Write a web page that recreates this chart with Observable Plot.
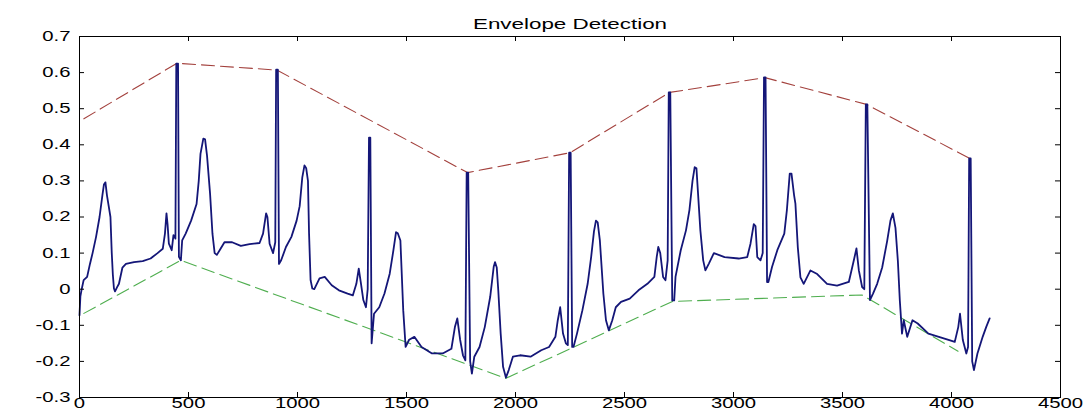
<!DOCTYPE html>
<html><head><meta charset="utf-8">
<script src="https://cdn.jsdelivr.net/npm/d3@7"></script>
<script src="https://cdn.jsdelivr.net/npm/@observablehq/plot@0.6"></script>
<style>body{margin:0;background:#fff;}</style>
</head><body><div id="chart"></div>
<script>
const title = "Envelope Detection";
const xTicks = [0, 500, 1000, 1500, 2000, 2500, 3000, 3500, 4000, 4500];
const yTicks = [-0.3, -0.2, -0.1, 0, 0.1, 0.2, 0.3, 0.4, 0.5, 0.6, 0.7];

// ECG signal (sample index, amplitude)
const ecgX = [0,4,10,19,35,48,60,76,92,105,112,119,126,134,142,148,153,158,163,172,181,197,213,250,290,326,358,382,392,399,404,410,423,431,440,444,452,456,465,471,487,512,537,547,555,568,576,585,599,610,620,630,645,665,700,740,780,826,842,856,862,872,888,898,902,910,915,925,947,972,996,1010,1022,1032,1040,1048,1053,1060,1068,1077,1101,1125,1157,1190,1230,1254,1270,1281,1290,1302,1314,1322,1328,1334,1340,1351,1375,1399,1423,1440,1452,1460,1472,1485,1496,1512,1536,1569,1617,1666,1706,1722,1733,1746,1759,1770,1776,1783,1792,1800,1811,1835,1859,1884,1900,1906,1914,1921,1932,1943,1956,1969,1988,2021,2069,2118,2154,2183,2194,2205,2218,2231,2240,2246,2253,2260,2266,2282,2307,2331,2347,2360,2369,2377,2387,2403,2415,2428,2444,2460,2484,2524,2564,2605,2637,2648,2655,2664,2677,2688,2698,2703,2710,2719,2728,2734,2758,2782,2798,2812,2822,2830,2848,2861,2871,2887,2910,2959,3024,3063,3078,3093,3101,3109,3124,3134,3140,3147,3154,3160,3177,3201,3233,3245,3258,3266,3278,3284,3295,3307,3322,3353,3384,3429,3475,3529,3552,3564,3575,3590,3600,3607,3614,3626,3640,3659,3682,3705,3720,3731,3743,3754,3763,3773,3781,3797,3821,3845,3894,3942,3990,4015,4031,4039,4052,4068,4076,4081,4088,4095,4103,4119,4143,4159,4175];
const ecgY = [-0.072,-0.02,0.0,0.025,0.034,0.07,0.1,0.145,0.2,0.26,0.29,0.296,0.26,0.23,0.2,0.1,0.04,0.002,-0.006,0.005,0.015,0.06,0.07,0.075,0.078,0.085,0.1,0.112,0.154,0.21,0.18,0.126,0.108,0.15,0.14,0.625,0.625,0.09,0.08,0.135,0.154,0.19,0.236,0.30,0.375,0.417,0.415,0.37,0.264,0.153,0.1,0.095,0.11,0.13,0.13,0.12,0.125,0.128,0.154,0.21,0.2,0.126,0.1,0.13,0.608,0.608,0.07,0.08,0.117,0.145,0.19,0.23,0.31,0.343,0.335,0.3,0.154,0.025,0.002,0.0,0.03,0.034,0.011,-0.003,-0.012,-0.017,0.015,0.057,0.02,-0.03,-0.05,0.0,0.42,0.42,-0.15,-0.068,-0.05,-0.012,0.043,0.108,0.158,0.155,0.135,-0.058,-0.16,-0.14,-0.132,-0.16,-0.178,-0.178,-0.165,-0.105,-0.081,-0.14,-0.183,-0.197,0.323,0.323,-0.2,-0.234,-0.187,-0.16,-0.105,-0.021,0.062,0.075,0.06,-0.003,-0.123,-0.215,-0.245,-0.224,-0.187,-0.183,-0.187,-0.169,-0.16,-0.132,-0.086,-0.05,-0.123,-0.15,-0.155,0.378,0.378,-0.16,-0.16,-0.123,-0.058,0.015,0.089,0.16,0.19,0.185,0.135,-0.012,-0.086,-0.114,-0.086,-0.05,-0.035,-0.026,-0.003,0.015,0.034,0.09,0.117,0.1,0.034,0.025,0.08,0.545,0.545,-0.031,-0.031,0.034,0.108,0.163,0.22,0.3,0.338,0.335,0.163,0.08,0.052,0.071,0.1,0.089,0.085,0.089,0.126,0.18,0.175,0.089,0.08,0.1,0.587,0.587,0.02,0.02,0.062,0.108,0.154,0.22,0.32,0.32,0.26,0.237,0.116,0.033,0.015,0.052,0.042,0.015,0.01,0.02,0.08,0.113,0.052,0.006,0.0,0.512,0.512,-0.03,-0.012,0.015,0.06,0.134,0.19,0.21,0.17,0.078,-0.032,-0.123,-0.086,-0.132,-0.086,-0.095,-0.123,-0.132,-0.141,-0.146,-0.105,-0.068,-0.141,-0.178,-0.16,0.362,0.362,-0.2,-0.224,-0.178,-0.132,-0.105,-0.081];

// upper (red) and lower (green) envelopes
const upperX = [20, 447, 906, 1780, 2250, 2706, 3144, 3610, 4085];
const upperY = [0.472, 0.626, 0.607, 0.323, 0.378, 0.545, 0.586, 0.512, 0.362];
const lowerX = [20, 465, 1956, 2720, 3590, 4030];
const lowerY = [-0.067, 0.08, -0.247, -0.034, -0.016, -0.172];

const ecg = ecgX.map((x, i) => ({x, y: ecgY[i]}));
const upper = upperX.map((x, i) => ({x, y: upperY[i]}));
const lower = lowerX.map((x, i) => ({x, y: lowerY[i]}));

const fmtY = d => String(+d.toFixed(1));
const W = 1091, H = 414, mL = 79, mR = 31, mT = 36, mB = 17, tick = 5;
const innerW = W - mL - mR, innerH = H - mT - mB;

const chart = Plot.plot({
  width: W, height: H,
  marginLeft: mL, marginRight: mR, marginTop: mT, marginBottom: mB,
  style: {fontFamily: "'Liberation Sans', Arial, sans-serif", fontSize: "14px", background: "#fff", color: "#000"},
  x: {domain: [0, 4500], label: null},
  y: {domain: [-0.3, 0.7], label: null},
  marks: [
    Plot.line(upper, {x: "x", y: "y", stroke: "#a3413d", strokeWidth: 1.1, strokeDasharray: "13,6"}),
    Plot.line(lower, {x: "x", y: "y", stroke: "#4fae4f", strokeWidth: 1.1, strokeDasharray: "13,6"}),
    Plot.line(ecg, {x: "x", y: "y", stroke: "#141678", strokeWidth: 1.8}),
    Plot.axisX({ticks: xTicks, anchor: "bottom", tickSize: 0, tickPadding: 1, tickFormat: d => String(d), label: null}),
    Plot.axisY({ticks: yTicks, anchor: "left", tickSize: 0, tickPadding: 9, tickFormat: fmtY, label: null}),
    Plot.tickX(xTicks, {x: d => d, insetTop: innerH - tick, stroke: "#000"}),
    Plot.tickX(xTicks, {x: d => d, insetBottom: innerH - tick, stroke: "#000"}),
    Plot.tickY(yTicks, {y: d => d, insetRight: innerW - tick, stroke: "#000"}),
    Plot.tickY(yTicks, {y: d => d, insetLeft: innerW - tick, stroke: "#000"}),
    Plot.frame({stroke: "#000"}),
    Plot.text([title], {text: d => d, frameAnchor: "top", dy: -17, fontSize: 14})
  ]
});
document.getElementById("chart").appendChild(chart);

// horizontally widen the lettering like the reference (keep the em-based vertical offsets)
chart.querySelectorAll("text").forEach(t => {
  if (!t.textContent) return;
  const isTitle = t.textContent === title;
  const xa = t.getAttribute("x");
  let x = 0;
  if (xa !== null && !isNaN(+xa)) { x = +xa; t.removeAttribute("x"); }
  const tr = t.getAttribute("transform") || "";
  t.setAttribute("transform", `${tr} translate(${x},0) scale(${isTitle ? 1.6 : 1.45},1)`);
});
</script>
</body></html>
